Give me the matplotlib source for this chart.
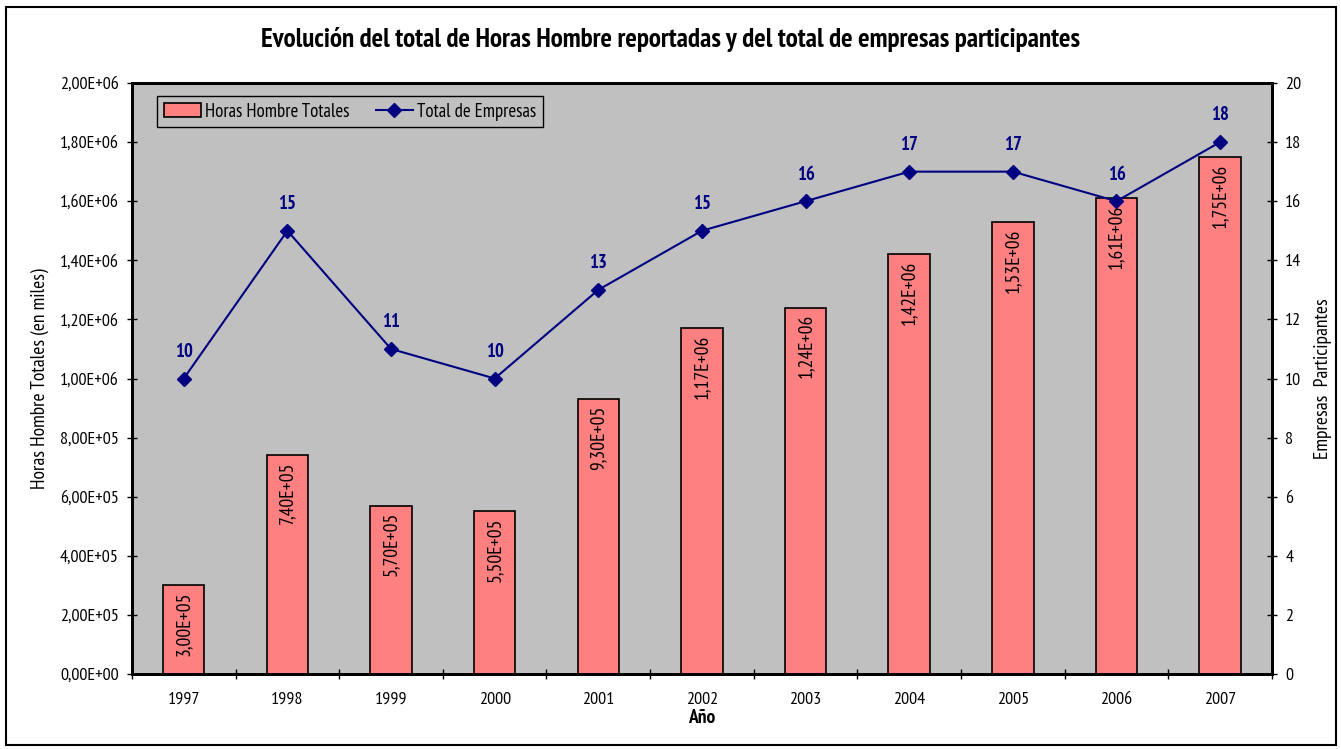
import matplotlib
matplotlib.use('Agg')
import matplotlib.pyplot as plt
from matplotlib import font_manager as fm
from matplotlib.patches import Rectangle
import numpy as np

# Data for the chart
years = ['1997', '1998', '1999', '2000', '2001', '2002', '2003', '2004', '2005', '2006', '2007']
horas = [3.00e5, 7.40e5, 5.70e5, 5.50e5, 9.30e5, 1.17e6, 1.24e6, 1.42e6, 1.53e6, 1.61e6, 1.75e6]
empresas = [10, 15, 11, 10, 13, 15, 16, 17, 17, 16, 18]


# narrow font similar to Arial Narrow, with a bold weight
def weight_num(w):
    return w if isinstance(w, int) else fm.weight_dict.get(w, 400)


wanted = ['Liberation Sans Narrow', 'Arial Narrow', 'Archivo Narrow', 'PT Sans Narrow',
          'Roboto Condensed', 'IBM Plex Sans Condensed', 'Open Sans Condensed']
bold_ok = set(f.name for f in fm.fontManager.ttflist if weight_num(f.weight) >= 600)
reg_ok = set(f.name for f in fm.fontManager.ttflist if weight_num(f.weight) == 400)
picked = [f for f in wanted if f in bold_ok and f in reg_ok]
plt.rcParams['font.family'] = picked[:1] + ['DejaVu Sans']


def sci_es(v, pos=None):
    return '{:.2E}'.format(v).replace('.', ',')


fig = plt.figure(figsize=(13.41, 7.49), dpi=100)
ax = fig.add_axes([0.0984, 0.1001, 0.8501, 0.7891])
ax.set_facecolor('#C0C0C0')

x = np.arange(len(years))
ax.bar(x, horas, width=0.4, color='#FF8080', edgecolor='black', linewidth=1.2,
       label='Horas Hombre Totales', zorder=2)
for xi, v in zip(x, horas):
    ax.text(xi, v - 22000, sci_es(v), rotation=90, ha='center', va='top',
            fontsize=14, color='black', zorder=3)

ax.set_xlim(-0.5, len(years) - 0.5)
ax.set_ylim(0, 2.0e6)
ax.set_yticks(np.arange(0, 2.0e6 + 1, 2.0e5))
ax.yaxis.set_major_formatter(plt.FuncFormatter(sci_es))
ax.set_xticks(x)
ax.set_xticklabels(years)
ax.set_xticks(np.arange(-0.5, len(years), 1.0), minor=True)
ax.tick_params(axis='x', which='major', length=0, labelsize=13, pad=13)
ax.tick_params(axis='x', which='minor', length=7, direction='inout', width=1)
ax.tick_params(axis='y', length=7, direction='inout', width=1, labelsize=13, pad=6)
for sp in ax.spines.values():
    sp.set_linewidth(2)

ax.set_ylabel('Horas Hombre Totales (en miles)', fontsize=14, labelpad=8)
ax.set_xlabel('Año', fontsize=14, fontweight='bold', labelpad=1)

ax2 = ax.twinx()
ax2.plot(x, empresas, color='#000080', marker='D', markersize=7, linewidth=1.5,
         label='Total de Empresas', zorder=4)
for xi, v in zip(x, empresas):
    ax2.text(xi, v + 0.9, str(v), ha='center', va='center', fontsize=13.5,
             fontweight='bold', color='#000080')
ax2.set_ylim(0, 20)
ax2.set_yticks(np.arange(0, 21, 2))
ax2.tick_params(axis='y', length=7, direction='inout', width=1, labelsize=13, pad=6)
ax2.set_ylabel('Empresas  Participantes', fontsize=14, rotation=90, labelpad=9)
for sp in ax2.spines.values():
    sp.set_linewidth(2)

h1, l1 = ax.get_legend_handles_labels()
h2, l2 = ax2.get_legend_handles_labels()
leg = ax2.legend(h1 + h2, l1 + l2, loc='upper left', ncol=2, fontsize=13.5,
                 bbox_to_anchor=(0.022, 0.978), borderaxespad=0, fancybox=False,
                 framealpha=1, facecolor='#C0C0C0', edgecolor='black', handlelength=2,
                 columnspacing=1.4, borderpad=0.35, handletextpad=0.2)
leg.get_frame().set_linewidth(1)

fig.text(0.5, 0.947, 'Evolución del total de Horas Hombre reportadas y del total de empresas participantes',
         ha='center', va='center', fontsize=19.5, fontweight='bold')

fig.patches.append(Rectangle((0.0045, 0.005), 0.992, 0.986, transform=fig.transFigure,
                             fill=False, edgecolor='black', linewidth=1.5))

fig.savefig('out.png', dpi=100)
